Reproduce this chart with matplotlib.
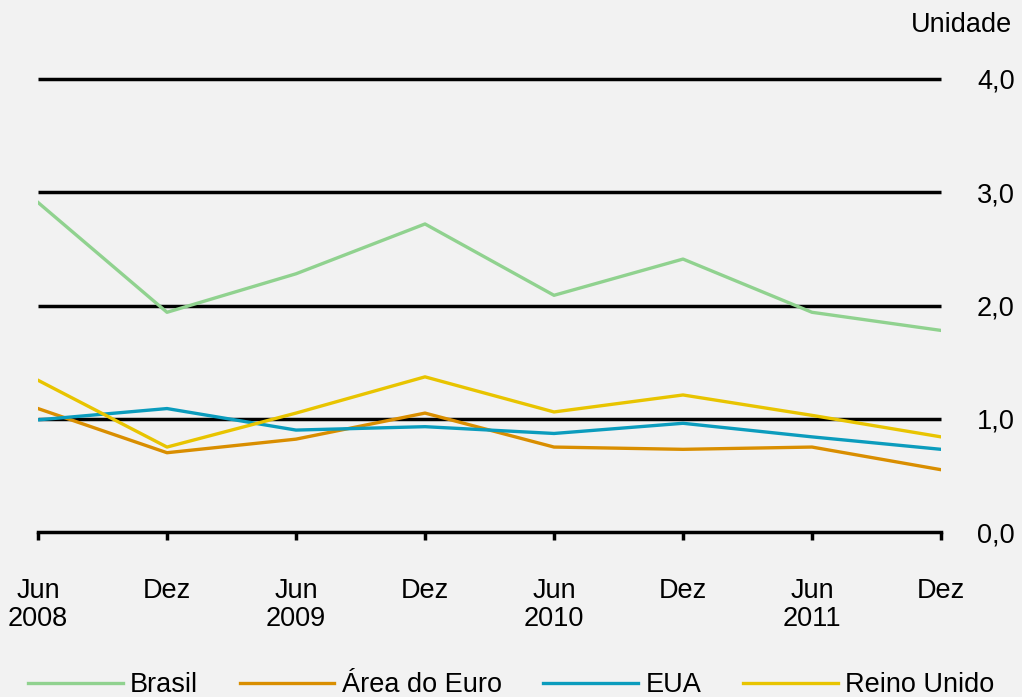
import numpy as np
import matplotlib
matplotlib.use("Agg")
import matplotlib.pyplot as plt

plt.rcParams['font.family'] = ['Liberation Sans', 'DejaVu Sans']

# dados
periodos = ["Jun\n2008", "Dez", "Jun\n2009", "Dez", "Jun\n2010", "Dez", "Jun\n2011", "Dez"]
brasil = [2.91, 1.94, 2.28, 2.72, 2.09, 2.41, 1.94, 1.78]
area_euro = [1.09, 0.70, 0.82, 1.05, 0.75, 0.73, 0.75, 0.55]
eua = [0.99, 1.09, 0.90, 0.93, 0.87, 0.96, 0.84, 0.73]
reino_unido = [1.34, 0.75, 1.05, 1.37, 1.06, 1.21, 1.03, 0.84]
yticks = [0, 1, 2, 3, 4]
ylabels = ["0,0", "1,0", "2,0", "3,0", "4,0"]

bg = "#f2f2f2"
fs = 19.5
fig = plt.figure(figsize=(10.22, 6.97), dpi=100, facecolor=bg)
ax = fig.add_axes([38 / 1022, 1 - 532 / 697, (941 - 38) / 1022, (532 - 79) / 697])
ax.set_facecolor(bg)

x = np.arange(len(periodos))

# linhas de grade
for v in yticks[1:]:
    ax.axhline(v, color="black", lw=2.5, zorder=1, clip_on=False, solid_capstyle="butt")

series = [
    ("Brasil", brasil, "#90d28f"),
    ("Área do Euro", area_euro, "#d98e00"),
    ("EUA", eua, "#0b9cbd"),
    ("Reino Unido", reino_unido, "#e8c400"),
]
for nome, vals, cor in series:
    ax.plot(x, vals, color=cor, lw=2.4, label=nome, zorder=3)

ax.set_xlim(0, len(periodos) - 1)
ax.set_ylim(0, 4)

for s in ["top", "left", "right"]:
    ax.spines[s].set_visible(False)
ax.spines["bottom"].set_linewidth(2.5)
ax.spines["bottom"].set_color("black")

ax.set_xticks(x)
ax.set_xticklabels(periodos, fontsize=fs, linespacing=1.1)
ax.tick_params(axis="x", direction="out", length=6, width=2.5, pad=27)

ax.yaxis.tick_right()
ax.set_yticks(yticks)
ax.set_yticklabels(ylabels, fontsize=fs)
ax.tick_params(axis="y", length=0, pad=26)

fig.text(1012 / 1022, 1 - 25 / 697, "Unidade", fontsize=fs, ha="right", va="center")

fig.legend(loc="center", bbox_to_anchor=(0.5, 1 - 685 / 697), ncol=4, frameon=False,
           fontsize=fs, handlelength=3.5, handletextpad=0.26, columnspacing=1.55)

fig.savefig("out.png", dpi=100, facecolor=bg)
